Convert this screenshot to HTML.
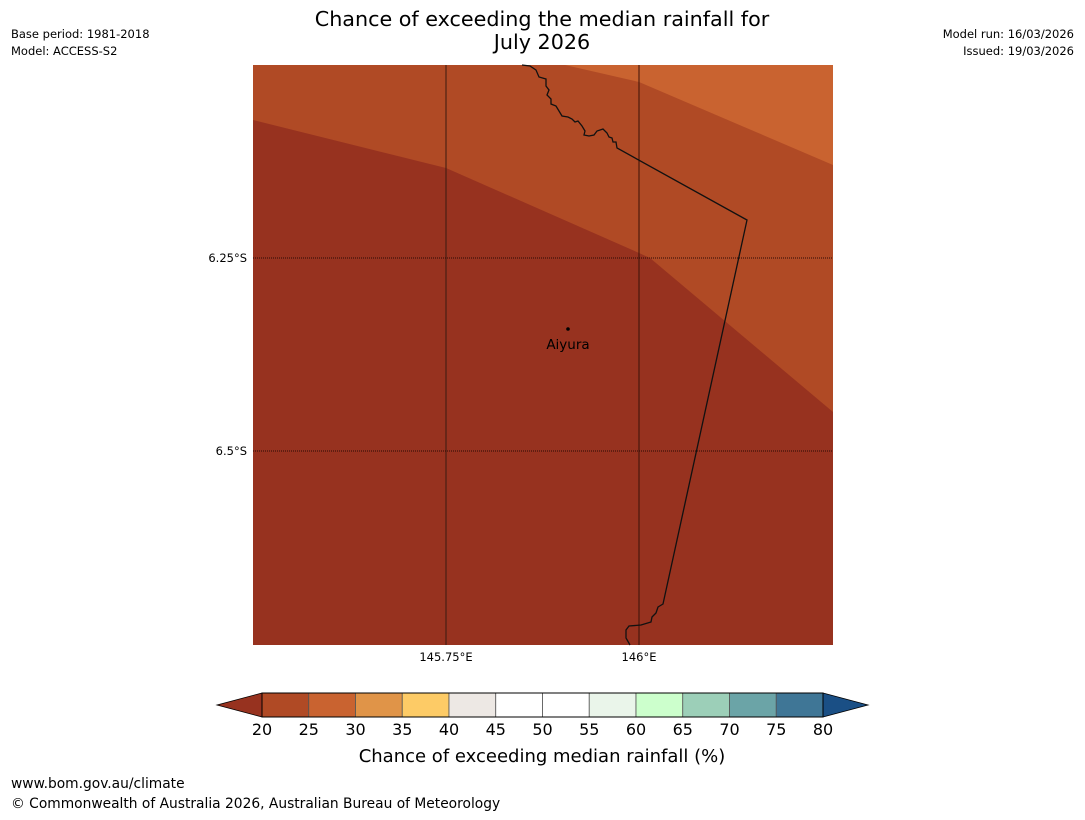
<!DOCTYPE html>
<html><head><meta charset="utf-8"><style>
body{margin:0;background:#fff;width:1085px;height:816px;overflow:hidden;font-family:"DejaVu Sans","Liberation Sans",sans-serif}
svg text{font-family:"DejaVu Sans","Liberation Sans",sans-serif}
</style></head><body>
<svg id="chart" width="1085" height="816" xmlns="http://www.w3.org/2000/svg">
<text x="542" y="26" font-size="20.7" text-anchor="middle">Chance of exceeding the median rainfall for</text>
<text x="542" y="49" font-size="20.7" text-anchor="middle">July 2026</text>
<text x="11" y="38" font-size="11.5">Base period: 1981-2018</text>
<text x="11" y="55" font-size="11.5">Model: ACCESS-S2</text>
<text x="1074" y="38" font-size="11.5" text-anchor="end">Model run: 16/03/2026</text>
<text x="1074" y="55" font-size="11.5" text-anchor="end">Issued: 19/03/2026</text>
<g>
<rect x="253" y="65" width="580" height="580" fill="#97321f"/>
<polygon points="253,65 833,65 833,412 650,258 639,253 446,168 253,120" fill="#b04a25"/>
<polygon points="565,65 639,82 833,165 833,65" fill="#c96330"/>
<line x1="446" y1="65" x2="446" y2="645" stroke="#3a1a10" stroke-width="1"/>
<line x1="639" y1="65" x2="639" y2="645" stroke="#3a1208" stroke-width="1"/>
<line x1="253" y1="258" x2="833" y2="258" stroke="#2a0a05" stroke-width="1" stroke-dasharray="1,1"/>
<line x1="253" y1="451" x2="833" y2="451" stroke="#2a0a05" stroke-width="1" stroke-dasharray="1,1"/>
<path fill="none" stroke="#111" stroke-width="1.3" d="M522,65 L530,66 L536,70 L539,77 L546,79 L546,86 L549,90 L547,95 L551,99 L551,104 L556,106 L559,111 L562,116 L568,117 L572,119 L575,122 L578,121 L582,126 L585,131 L584,135 L589,136 L594,135 L597,131 L603,129 L607,133 L609,137 L612,138 L613,142 L616,142 L617,148 L747,220 L663,604 L658,607 L656,613 L652,617 L651,622 L641,625 L629,626 L626,630 L626,638 L630,645"/>
<circle cx="568" cy="329" r="1.8" fill="#000"/>
<text x="568" y="349" font-size="13.5" text-anchor="middle">Aiyura</text>
</g>
<text x="247" y="262" font-size="11.5" text-anchor="end">6.25°S</text>
<text x="247" y="455" font-size="11.5" text-anchor="end">6.5°S</text>
<text x="446" y="661" font-size="11.5" text-anchor="middle">145.75°E</text>
<text x="639" y="661" font-size="11.5" text-anchor="middle">146°E</text>
<g id="cbar"></g>
<text x="542" y="762" font-size="18" text-anchor="middle">Chance of exceeding median rainfall (%)</text>
<text x="11" y="788" font-size="13.8">www.bom.gov.au/climate</text>
<text x="11" y="808" font-size="13.8">© Commonwealth of Australia 2026, Australian Bureau of Meteorology</text>
</svg>
<script>
const bounds=[20,25,30,35,40,45,50,55,60,65,70,75,80];
const colors=['#b04a25','#c96330','#e09448','#fdcb66','#ede8e4','#ffffff','#ffffff','#eaf5ea','#ccffcc','#9ccfb8','#6ba4a7','#3f7696'];
const lowColor='#97321f', highColor='#1a4f85';
const NS='http://www.w3.org/2000/svg';
const g=document.getElementById('cbar');
const x0=262,x1=823,y0=693,h=24;
function xs(v){return x0+(v-bounds[0])/(bounds[bounds.length-1]-bounds[0])*(x1-x0);}
function mk(t,a){const e=document.createElementNS(NS,t);for(const k in a)e.setAttribute(k,a[k]);g.appendChild(e);return e;}
let lt=mk('polygon',{points:`${x0},${y0} ${x0},${y0+h} 217,${y0+h/2}`,fill:lowColor,stroke:'#000','stroke-width':0.8});


let rt=mk('polygon',{points:`${x1},${y0} ${x1},${y0+h} 868,${y0+h/2}`,fill:highColor,stroke:'#000','stroke-width':0.8});


for(let i=0;i<colors.length;i++){
  const r=mk('rect',{x:xs(bounds[i]),y:y0,width:xs(bounds[i+1])-xs(bounds[i]),height:h,fill:colors[i],stroke:'#555','stroke-width':0.8});
  
  
}
mk('rect',{x:x0,y:y0,width:x1-x0,height:h,fill:'none',stroke:'#000','stroke-width':1});
bounds.forEach(b=>{
  const t=mk('text',{x:xs(b),y:735,'font-size':16,'text-anchor':'middle'});
  t.textContent=b;
  
  
});
</script>
</body></html>
